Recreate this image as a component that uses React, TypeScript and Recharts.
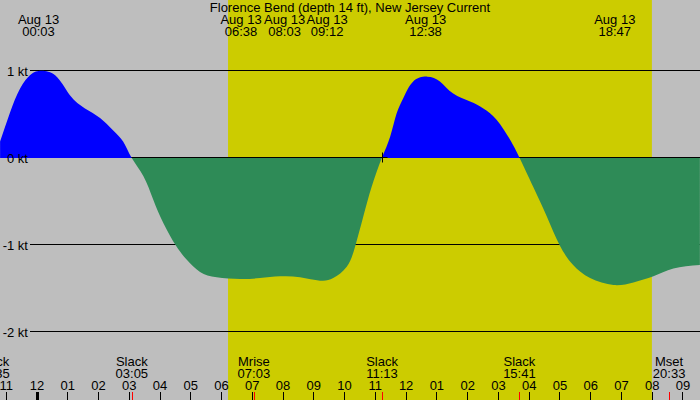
import {
  ComposedChart,
  Area,
  XAxis,
  YAxis,
  ReferenceArea,
  ReferenceLine,
  ReferenceDot,
} from 'recharts';

// current speed (hours after midnight Aug 13, knots)
const hours = [
  -1.2, -0.88, -0.55, -0.23, 0.05, 0.59, 1.07, 1.56, 2.05, 2.47, 2.8, 3.08,
  3.46, 3.78, 4.11, 4.52, 4.87, 5.3, 5.84, 6.6, 7.25, 7.9, 8.55, 9.2, 9.63,
  10.07, 10.34, 10.61, 10.88, 11.21, 11.48, 11.69, 11.91, 12.23, 12.69, 13.1,
  13.53, 14.08, 14.51, 14.94, 15.38, 15.69, 16.13, 16.57, 17.0, 17.43, 17.98,
  18.74, 19.39, 20.04, 20.69, 21.55,
];
const knots = [
  0.19, 0.52, 0.8, 0.95, 1.0, 0.95, 0.72, 0.57, 0.46, 0.32, 0.19, 0, -0.21,
  -0.48, -0.75, -1.01, -1.17, -1.31, -1.37, -1.39, -1.38, -1.36, -1.37, -1.41,
  -1.38, -1.25, -1.02, -0.67, -0.33, 0, 0.245, 0.51, 0.69, 0.88, 0.935, 0.88,
  0.74, 0.65, 0.57, 0.44, 0.21, 0, -0.33, -0.67, -1.01, -1.23, -1.38, -1.46,
  -1.43, -1.36, -1.27, -1.23,
];

const gridKnots = [1, 0, -1, -2];
const hourTicks = [
  -1, 0, 1, 2, 3, 4, 5, 6, 7, 8, 9, 10, 11, 12, 13, 14, 15, 16, 17, 18, 19, 20,
  21,
];

// max / min events shown on top
const topTimes = [0.05, 6.633, 8.05, 9.2, 12.633, 18.783];
const topLabels = ['00:03', '06:38', '08:03', '09:12', '12:38', '18:47'];

// slack and moon events shown at the bottom
const bottomTimes = [-1.417, 3.083, 7.05, 11.217, 15.683, 20.55];
const bottomNames = ['Slack', 'Slack', 'Mrise', 'Slack', 'Slack', 'Mset'];
const bottomLabels = ['22:35', '03:05', '07:03', '11:13', '15:41', '20:33'];

const sunrise = 6.21;
const sunset = 19.99;
const xDomain: [number, number] = [-1.203, 21.554];
const yDomain: [number, number] = [-2.782, 1.816];
const gridStart = -0.228;

const colors = {
  night: '#bebebe',
  day: '#cccc00',
  flood: '#0000ff',
  ebb: '#2e8b57',
  text: '#000000',
  tick: '#ff0000',
};

const font = '"Liberation Sans", Arial, sans-serif';
const fontSize = 13;

const data = hours.map((h, i) => ({ h, v: knots[i] }));
const vMax = Math.max(...knots);
const vMin = Math.min(...knots);
const splitOffset = vMax / (vMax - vMin);

const hourLabel = (h: number) => {
  const m = ((h % 12) + 12) % 12;
  return String(m === 0 ? 12 : m).padStart(2, '0');
};

const pix = (v: number) => Math.round(v - 0.5) + 0.5;

// keeps top labels from overlapping, reset at the first label
const topLayout = { right: -Infinity };
const topLabelWidth = 41;

export default function App() {
  return (
    <div
      style={{
        position: 'fixed',
        left: 0,
        top: 0,
        width: 700,
        height: 400,
        background: colors.night,
        fontFamily: font,
      }}
    >
      <ComposedChart
        width={700}
        height={400}
        data={data}
        margin={{ top: 0, right: 0, bottom: 0, left: 0 }}
      >
        <XAxis
          type="number"
          dataKey="h"
          domain={xDomain}
          allowDataOverflow
          hide
        />
        <YAxis type="number" domain={yDomain} allowDataOverflow hide />
        <defs>
          <linearGradient id="currentFill" x1="0" y1="0" x2="0" y2="1">
            <stop offset={splitOffset} stopColor={colors.flood} />
            <stop offset={splitOffset} stopColor={colors.ebb} />
          </linearGradient>
        </defs>

        <ReferenceArea
          x1={sunrise}
          x2={sunset}
          y1={yDomain[0]}
          y2={yDomain[1]}
          fill={colors.day}
          fillOpacity={1}
          stroke="none"
          ifOverflow="visible"
          zIndex={10}
        />

        {gridKnots.map((k) => (
          <ReferenceLine
            key={`grid-${k}`}
            segment={[
              { x: gridStart, y: k },
              { x: xDomain[1], y: k },
            ]}
            stroke={colors.text}
            strokeWidth={1}
            shapeRendering="crispEdges"
            ifOverflow="visible"
            zIndex={50}
          />
        ))}

        <Area
          type="natural"
          dataKey="v"
          baseValue={0}
          stroke="none"
          fill="url(#currentFill)"
          fillOpacity={1}
          isAnimationActive={false}
          dot={false}
          activeDot={false}
        />

        {gridKnots.map((k) => (
          <ReferenceDot
            key={`ylab-${k}`}
            x={gridStart}
            y={k}
            ifOverflow="visible"
            shape={(p: any) => (
              <text
                x={p.cx - 2}
                y={p.cy + 5}
                textAnchor="end"
                fontSize={fontSize}
                fontFamily={font}
                fill={colors.text}
              >
                {`${k} kt`}
              </text>
            )}
          />
        ))}

        {topTimes.map((t, i) => (
          <ReferenceDot
            key={`top-${i}`}
            x={t}
            y={yDomain[1]}
            ifOverflow="visible"
            shape={(p: any) => {
              if (i === 0) topLayout.right = -Infinity;
              const cx = Math.max(p.cx, topLayout.right + 1.5 + topLabelWidth / 2);
              topLayout.right = cx + topLabelWidth / 2;
              return (
                <g fontSize={fontSize} fontFamily={font} fill={colors.text}>
                  <text x={cx} y={p.cy + 24} textAnchor="middle">
                    Aug 13
                  </text>
                  <text x={cx} y={p.cy + 36} textAnchor="middle">
                    {topLabels[i]}
                  </text>
                </g>
              );
            }}
          />
        ))}

        {hourTicks.map((h) => (
          <ReferenceDot
            key={`hour-${h}`}
            x={h}
            y={yDomain[0]}
            ifOverflow="visible"
            shape={(p: any) => (
              <g>
                <text
                  x={p.cx}
                  y={p.cy - 10}
                  textAnchor="middle"
                  fontSize={fontSize}
                  fontFamily={font}
                  fill={colors.text}
                >
                  {hourLabel(h)}
                </text>
                <line
                  x1={pix(p.cx)}
                  x2={pix(p.cx)}
                  y1={p.cy - 8}
                  y2={p.cy}
                  stroke={colors.text}
                  strokeWidth={h % 24 === 0 ? 3 : 1}
                />
              </g>
            )}
          />
        ))}

        {bottomTimes.map((t, i) => (
          <ReferenceDot
            key={`bot-${i}`}
            x={t}
            y={yDomain[0]}
            ifOverflow="visible"
            shape={(p: any) => (
              <g fontSize={fontSize} fontFamily={font} fill={colors.text}>
                <text x={p.cx} y={p.cy - 34} textAnchor="middle">
                  {bottomNames[i]}
                </text>
                <text x={p.cx} y={p.cy - 22} textAnchor="middle">
                  {bottomLabels[i]}
                </text>
                <rect
                  x={Math.round(p.cx)}
                  y={p.cy - 8}
                  width={1}
                  height={8}
                  fill={colors.tick}
                />
              </g>
            )}
          />
        ))}

        <ReferenceDot
          x={bottomTimes[3]}
          y={0}
          ifOverflow="visible"
          shape={(p: any) => (
            <path
              d={`M${pix(p.cx) - 5},${pix(p.cy)}H${pix(p.cx) + 5}M${pix(p.cx)},${pix(p.cy) - 5}V${pix(p.cy) + 5}`}
              stroke={colors.text}
              strokeWidth={1}
            />
          )}
        />
      </ComposedChart>
      <div
        style={{
          position: 'absolute',
          left: 0,
          top: 0,
          width: 700,
          textAlign: 'center',
          fontSize,
          lineHeight: '15px',
          color: colors.text,
        }}
      >
        Florence Bend (depth 14 ft), New Jersey Current
      </div>
    </div>
  );
}
